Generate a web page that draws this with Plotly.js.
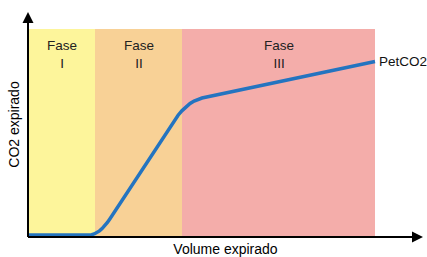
<!DOCTYPE html>
<html><head><meta charset="utf-8">
<script src="https://cdn.plot.ly/plotly-3.0.1.min.js"></script>
<style>html,body{margin:0;padding:0;background:#fff}#c{width:427px;height:257px}</style>
</head><body><div id="c"></div>
<script>
// Expired volume (arbitrary units) and CO2 (arbitrary units)
const volume = [1, 61, 63.6, 66.2, 68.8, 71.5, 74.1, 76.7, 79.4, 82, 142, 146.1, 150.1, 154.1, 158.1, 162.1, 166.1, 170.1, 174, 347];
const co2    = [2, 2, 2.25, 3.0, 4.3, 6.1, 8.4, 11.2, 14.5, 18.3, 110.7, 116.6, 121.8, 126.4, 130.3, 133.5, 136.0, 137.8, 139, 175.5];
const phaseNames = ["Fase<br>I", "Fase<br>II", "Fase<br>III"];
const phaseStart = [1, 67, 154];
const phaseEnd   = [67, 154, 347];
const phaseTop = 208;
const phaseColors = ["#fdf59b", "#f8d196", "#f4adaa"];
const endLabel = "PetCO2";

const shapes = phaseNames.map((n, i) => ({
  type: "rect", xref: "x", yref: "y", layer: "below",
  x0: phaseStart[i], x1: phaseEnd[i], y0: 0, y1: phaseTop,
  fillcolor: phaseColors[i], line: {width: 0}
}));
shapes.push({type: "line", xref: "paper", yref: "paper", x0: 0, x1: 0.985, y0: 0, y1: 0, line: {color: "#000", width: 2}});
shapes.push({type: "line", xref: "paper", yref: "paper", x0: 0, x1: 0, y0: 0, y1: 0.97, line: {color: "#000", width: 2}});

const annotations = phaseNames.map((n, i) => ({
  x: (phaseStart[i] + phaseEnd[i]) / 2, y: 183, xref: "x", yref: "y",
  text: n, showarrow: false, font: {family: "Liberation Sans, Arial", size: 13.5, color: "#222"}
}));
annotations.push({
  x: volume[volume.length - 1], y: co2[co2.length - 1], xref: "x", yref: "y",
  text: endLabel, showarrow: false, xanchor: "left", xshift: 2,
  font: {family: "Liberation Sans, Arial", size: 13.5, color: "#111"}
});
annotations.push({x: 1, y: 0, xref: "paper", yref: "paper", ax: -12, ay: 0, text: "", showarrow: true, arrowhead: 2, arrowsize: 1.1, arrowwidth: 2, arrowcolor: "#000"});
annotations.push({x: 0, y: 1, xref: "paper", yref: "paper", ax: 0, ay: 12, text: "", showarrow: true, arrowhead: 2, arrowsize: 1.1, arrowwidth: 2, arrowcolor: "#000"});

const trace = {
  x: volume, y: co2, type: "scatter", mode: "lines",
  line: {color: "#2474c0", width: 3.5, shape: "linear"},
  hoverinfo: "skip"
};

const layout = {
  width: 427, height: 257,
  margin: {l: 28, r: 4, t: 12, b: 20},
  paper_bgcolor: "#fff", plot_bgcolor: "rgba(0,0,0,0)",
  showlegend: false,
  font: {family: "Liberation Sans, Arial", size: 14, color: "#000"},
  xaxis: {range: [0, 395], showgrid: false, zeroline: false, showline: false, showticklabels: false, ticks: "",
          title: {text: "Volume expirado", font: {size: 14}, standoff: 8}},
  yaxis: {range: [0, 225], showgrid: false, zeroline: false, showline: false, showticklabels: false, ticks: "",
          title: {text: "CO2 expirado", font: {size: 14}, standoff: 4}},
  shapes: shapes, annotations: annotations
};
Plotly.newPlot("c", [trace], layout, {staticPlot: true, displayModeBar: false});
</script></body></html>
